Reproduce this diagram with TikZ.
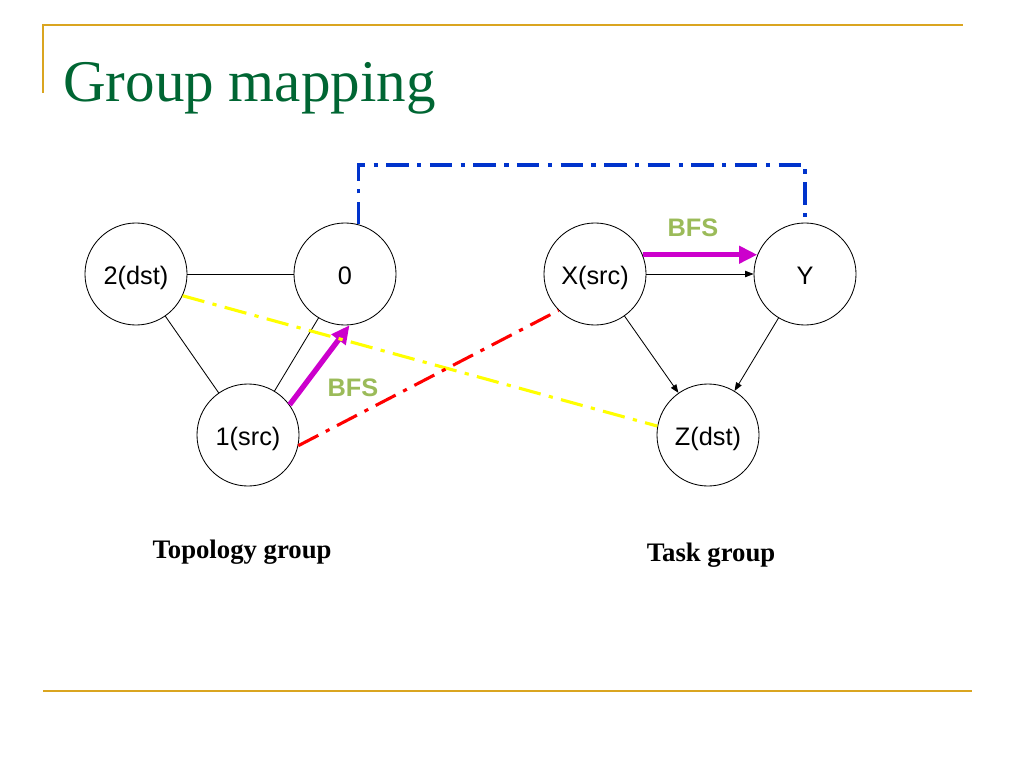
\documentclass[tikz,border=0pt]{standalone}
\usepackage{fontspec}
\setmainfont{Liberation Serif}
\setsansfont{Liberation Sans}
\usetikzlibrary{arrows.meta}
\definecolor{titleGreen}{RGB}{0,102,51}
\definecolor{ruleGold}{RGB}{218,165,32}
\definecolor{bfsGreen}{RGB}{155,187,89}
\definecolor{bfsMagenta}{RGB}{204,0,204}
\definecolor{mapBlue}{RGB}{0,51,204}
\definecolor{mapRed}{RGB}{255,0,0}
\definecolor{mapYellow}{RGB}{255,255,0}

\begin{document}
\begin{tikzpicture}[x=0.025cm, y=-0.025cm,
    vertex/.style={draw, circle, line width=0.6pt, minimum size=2.55cm, inner sep=0pt, text height=18.5pt, text depth=4pt, font=\sffamily\fontsize{18}{20}\selectfont},
    edge/.style={line width=0.6pt},
    dirEdge/.style={line width=0.6pt, -{Triangle[length=6pt, width=4.5pt]}},
    mapLine/.style={line width=2.2pt, dash pattern=on 16pt off 6pt on 3pt off 6pt},
    bfsArrow/.style={bfsMagenta, line width=3.8pt, -{Triangle[length=13pt, width=12pt]}},
    bfsLabel/.style={text=bfsGreen, font=\sffamily\bfseries\fontsize{18}{20}\selectfont},
    groupLabel/.style={anchor=base, font=\bfseries\fontsize{19}{22}\selectfont}]
    \useasboundingbox (0,0) rectangle (1024,768);
    % slide frame
    \draw[ruleGold, line width=1.5pt] (43,93) -- (43,25) -- (963,25);
    \draw[ruleGold, line width=1.5pt] (43,691) -- (972,691);
    \node[anchor=base west, text=titleGreen, font=\fontsize{42}{48}\selectfont, inner sep=0pt] (title) at (63,102) {Group mapping};
    % topology group
    \node[vertex] (n2) at (136,274) {2(dst)};
    \node[vertex] (n0) at (345,274) {0};
    \node[vertex] (n1) at (248,435) {1(src)};
    \draw[edge] (n2) -- (n0);
    \draw[edge] (n2) -- (n1);
    \draw[edge] (n1) -- (n0);
    % task group
    \node[vertex] (nX) at (595,274) {X(src)};
    \node[vertex] (nY) at (805,274) {Y};
    \node[vertex] (nZ) at (708,435) {Z(dst)};
    \draw[dirEdge] (nX) -- (nY);
    \draw[dirEdge] (nX) -- (nZ);
    \draw[dirEdge] (nY) -- (nZ);
    % BFS arrows
    \draw[bfsArrow] (n1.36) -- (n0.-85);
    \draw[bfsArrow] (nX.22) -- (nY.158);
    \node[bfsLabel] (bfsTopo) at (353,388) {BFS};
    \node[bfsLabel] (bfsTask) at (693,228) {BFS};
    % mapping
    \draw[mapLine, mapBlue] (n0.75) -- (n0.75 |- 0,165) -- (nY.north |- 0,165) -- (nY.north);
    \draw[mapLine, mapYellow] (n2.-25) -- (nZ.170);
    \draw[mapLine, mapRed] (n1.-12) -- (nX.225);
    % group names
    \node[groupLabel] (topoName) at (242,558) {Topology group};
    \node[groupLabel] (taskName) at (711,561) {Task group};
\end{tikzpicture}
\end{document}
